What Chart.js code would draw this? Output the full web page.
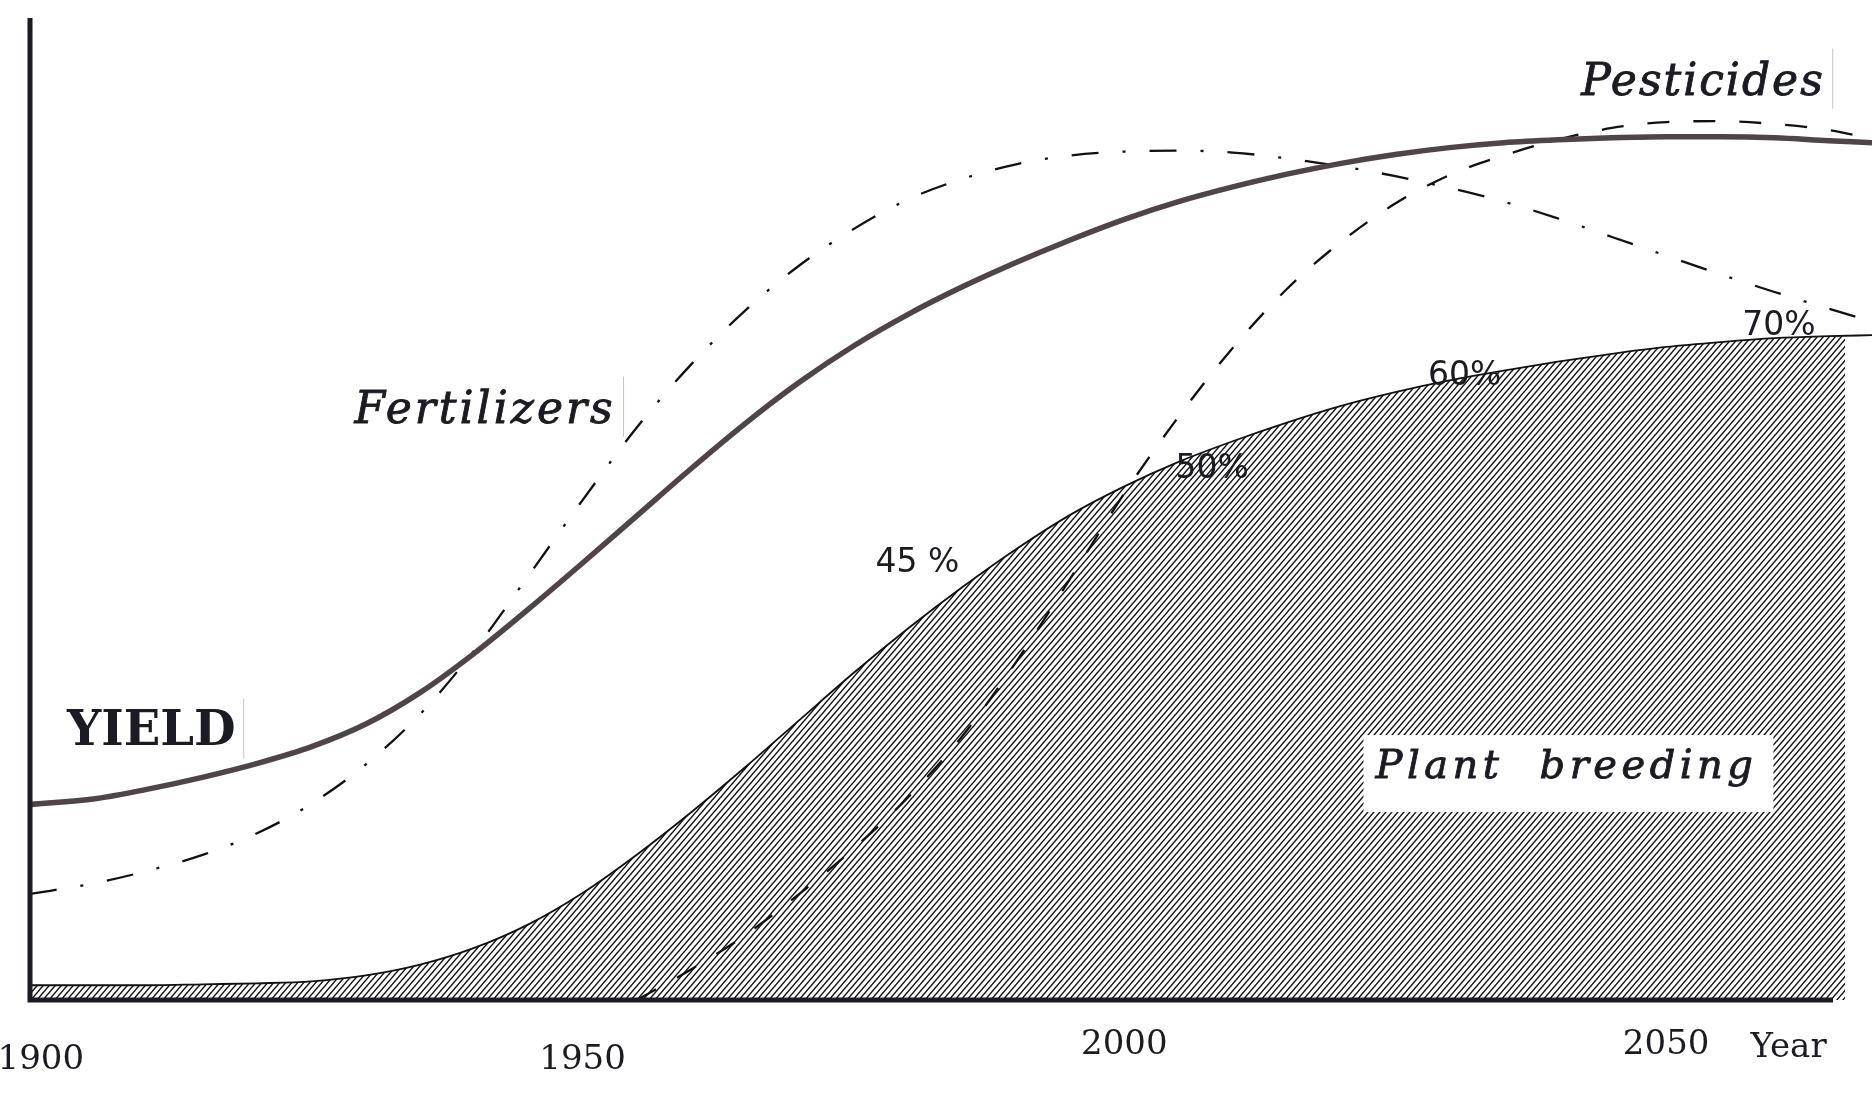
<!DOCTYPE html>
<html>
<head>
<meta charset="utf-8">
<title>Yield contributions</title>
<script src="https://cdn.jsdelivr.net/npm/chart.js@4.4.1/dist/chart.umd.min.js"></script>
<style>
	html, body { margin: 0; padding: 0; background: #fff; }
	#chart { display: block; }
</style>
</head>
<body>
<canvas id="chart" width="1872" height="1098"></canvas>
<script>
var years = [1899, 1905, 1910, 1915, 1920, 1925, 1930, 1935, 1940, 1945, 1950, 1955, 1960, 1965, 1970, 1975, 1980, 1985,
	1990, 1995, 2000, 2005, 2010, 2015, 2020, 2025, 2030, 2035, 2040, 2045, 2050, 2055, 2060, 2065, 2069]

var yieldLevel = [19.9, 20.5, 21.5, 22.7, 24.1, 25.8, 28.1, 31.3, 35.3, 39.8, 44.5, 49.3, 54.1, 58.7, 62.9, 66.6, 69.8, 72.6,
	75.1, 77.4, 79.5, 81.3, 82.8, 84.1, 85.2, 86.1, 86.8, 87.3, 87.6, 87.8, 87.9, 87.9, 87.8, 87.5, 87.3]

var fertilizers = [10.8, 11.9, 13.2, 14.8, 17.0, 20.0, 24.0, 29.1, 35.6, 43.2, 50.9, 58.3, 64.7, 70.2, 74.8, 78.5, 81.5, 83.6,
	85.1, 86.0, 86.4, 86.5, 86.3, 85.7, 84.9, 83.9, 82.7, 81.3, 79.6, 77.7, 75.8, 73.9, 72.1, 70.4, 69.1]

var pesticides = [null, null, null, null, null, null, null, null, null, null, null, 0, 3.1, 6.6, 10.8, 15.4, 20.6, 26.8,
	34.4, 42.9, 51.6, 59.4, 66.4, 72.4, 77.2, 81.1, 84.0, 86.0, 87.6, 88.8, 89.4, 89.5, 89.2, 88.6, 87.7]

var plantBreeding = [1.5, 1.5, 1.5, 1.6, 1.7, 1.9, 2.5, 3.6, 5.3, 7.7, 10.9, 14.8, 19.1, 23.7, 28.5, 33.3, 37.8, 42.0,
	45.9, 49.4, 52.3, 54.8, 56.9, 58.8, 60.5, 61.9, 63.1, 64.1, 65.0, 65.8, 66.5, 67.0, 67.4, 67.6, 67.7]

var tickYears = [1900, 1950, 2000, 2050]
var tickLabels = ['1900', '1950', '2000', '2050']

var ink = '#1b1b24'

// texts pasted on the drawing, anchored at the centre of their baseline
var notes = [
	{ text: 'YIELD', year: 1910.2, value: 26.0, font: 'bold 48px "DejaVu Serif"', edge: true },
	{ text: 'Fertilizers', year: 1941.0, value: 58.8, font: 'italic 44px "DejaVu Serif"', spacing: '3px', edge: true, heavy: true },
	{ text: 'Pesticides', year: 2053.4, value: 92.2, font: 'italic 44px "DejaVu Serif"', spacing: '2px', edge: true, heavy: true },
	{ text: 'Plant breeding', year: 2040.8, value: 22.6, font: 'italic 40px "DejaVu Serif"', spacing: '4.5px', wordGap: '19px', box: true, heavy: true },
	{ text: '45 %', year: 1980.9, value: 43.6, font: '33px "DejaVu Sans"' },
	{ text: '50%', year: 2008.1, value: 53.2, font: '33px "DejaVu Sans"' },
	{ text: '60%', year: 2031.4, value: 62.6, font: '33px "DejaVu Sans"' },
	{ text: '70%', year: 2060.4, value: 67.7, font: '33px "DejaVu Sans"' },
	{ text: 'Year', year: 2061.3, value: -5.8, font: '34px "DejaVu Serif"' }
]

function series(values) {
	return years.map(function (y, i) { return { x: y, y: values[i] } })
}

function hatchPattern() {
	var w = 6, h = 7
	var tile = document.createElement('canvas')
	tile.width = w
	tile.height = h
	var c = tile.getContext('2d')
	c.strokeStyle = '#111'
	c.lineWidth = 1.45
	for (var k = -1; k <= 1; k++) {
		c.beginPath()
		c.moveTo(k * w - w, 2 * h)
		c.lineTo(k * w + 2 * w, -h)
		c.stroke()
	}
	return c.createPattern(tile, 'repeat')
}

// hatch stops a little before the right edge, the curve itself goes on
var hatchCut = {
	id: 'hatchCut',
	afterDatasetDraw: function (chart, args) {
		if (args.index !== 0) return
		var a = chart.chartArea, ctx = chart.ctx
		ctx.save()
		ctx.fillStyle = '#fff'
		ctx.fillRect(a.right - 27, a.top, 40, a.bottom - a.top + 10)
		ctx.restore()
	}
}

var axesLines = {
	id: 'axesLines',
	afterDatasetsDraw: function (chart) {
		var a = chart.chartArea, ctx = chart.ctx
		ctx.save()
		ctx.strokeStyle = ink
		ctx.lineWidth = 5
		ctx.beginPath()
		ctx.moveTo(a.left, a.top)
		ctx.lineTo(a.left, a.bottom + 2.5)
		ctx.moveTo(a.left - 2.5, a.bottom)
		ctx.lineTo(a.right - 39, a.bottom)
		ctx.stroke()
		ctx.restore()
	}
}

var notesPlugin = {
	id: 'notes',
	afterDraw: function (chart) {
		var ctx = chart.ctx, xs = chart.scales.x, ys = chart.scales.y
		notes.forEach(function (n) {
			ctx.save()
			ctx.font = n.font
			ctx.letterSpacing = n.spacing || '0px'
			ctx.wordSpacing = n.wordGap || '0px'
			ctx.textAlign = 'center'
			ctx.textBaseline = 'alphabetic'
			var x = xs.getPixelForValue(n.year)
			var y = ys.getPixelForValue(n.value)
			var w = ctx.measureText(n.text).width
			if (n.box) {
				ctx.fillStyle = '#fff'
				ctx.fillRect(x - w / 2 - 12, y - 43, w + 28, 77)
			}
			if (n.edge) {
				ctx.strokeStyle = '#c4c4c4'
				ctx.lineWidth = 1
				ctx.beginPath()
				ctx.moveTo(x + w / 2 + 8, y - 46)
				ctx.lineTo(x + w / 2 + 8, y + 14)
				ctx.stroke()
			}
			ctx.fillStyle = ink
			ctx.fillText(n.text, x, y)
			if (n.heavy) {
				ctx.strokeStyle = ink
				ctx.lineWidth = 0.9
				ctx.strokeText(n.text, x, y)
			}
			ctx.restore()
		})
	}
}

var ctx = document.getElementById('chart')

var chart = new Chart(ctx, {
	type: 'line',
	data: {
		datasets: [{
			label: 'Plant breeding (hatch)',
			data: series(plantBreeding),
			fill: 'origin',
			backgroundColor: hatchPattern(),
			borderWidth: 0,
			order: 5,
		}, {
			label: 'Plant breeding',
			data: series(plantBreeding),
			fill: false,
			borderColor: '#111',
			borderWidth: 1.8,
			order: 4,
		}, {
			label: 'Pesticides',
			data: series(pesticides),
			fill: false,
			borderColor: '#111',
			borderWidth: 2.3,
			borderDash: [22, 24],
			order: 3,
		}, {
			label: 'Fertilizers',
			data: series(fertilizers),
			fill: false,
			borderColor: '#111',
			borderWidth: 2.3,
			borderDash: [27, 24, 3, 24],
			order: 2,
		}, {
			label: 'Yield',
			data: series(yieldLevel),
			fill: false,
			borderColor: '#4f4448',
			borderWidth: 5.5,
			order: 1,
		}]
	},
	options: {
		responsive: false,
		animation: false,
		layout: { padding: { left: 30, top: 18, right: 0, bottom: 0 } },
		plugins: {
			legend: { display: false },
			tooltip: { enabled: false },
		},
		elements: {
			point: { radius: 0 },
			line: { cubicInterpolationMode: 'monotone', borderCapStyle: 'butt' },
		},
		scales: {
			x: {
				type: 'linear',
				min: 1899,
				max: 2069,
				grid: { display: false, drawTicks: false },
				border: { display: false },
				afterBuildTicks: function (s) {
					s.ticks = tickYears.map(function (v) { return { value: v } })
				},
				afterFit: function (s) {
					s.height = 98
					s.paddingLeft = 0
					s.paddingRight = 0
				},
				ticks: {
					autoSkip: false,
					maxRotation: 0,
					padding: 0,
					color: ink,
					callback: function (v) { return tickLabels[tickYears.indexOf(v)] },
					font: function (c) {
						return { family: 'DejaVu Serif', size: 34, lineHeight: c.index < 2 ? '120px' : '90px' }
					},
				},
			},
			y: { display: false, min: 0, max: 100 },
		},
	},
	plugins: [hatchCut, axesLines, notesPlugin],
})
</script>
</body>
</html>
